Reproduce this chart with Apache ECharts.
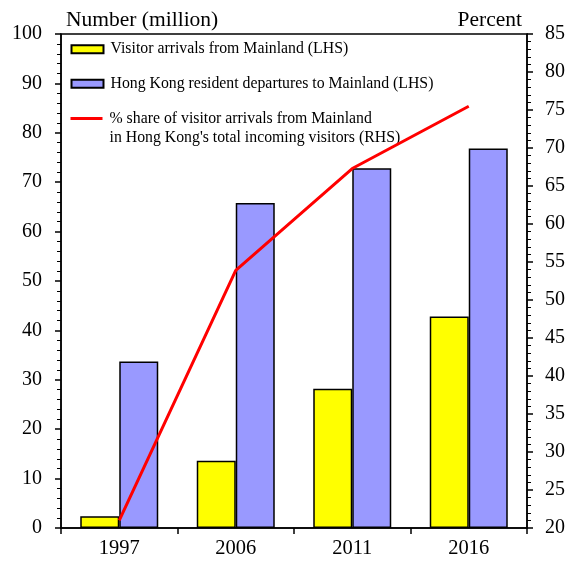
<!DOCTYPE html>
<html><head><meta charset="utf-8">
<script src="https://cdn.jsdelivr.net/npm/echarts@6/dist/echarts.min.js"></script>
<style>html,body{margin:0;padding:0;background:#fff}#c{width:576px;height:561px}</style>
</head><body><div id="c"></div>
<script>
const categories = ['1997', '2006', '2011', '2016'];
const visitorArrivals = [2.4, 13.6, 28.2, 42.8];
const residentDepartures = [33.7, 65.8, 72.8, 76.8];
const shareMainland = [21.0, 53.9, 67.3, 75.5];
const nameA = 'Visitor arrivals from Mainland (LHS)';
const nameB = 'Hong Kong resident departures to Mainland (LHS)';
const nameC = "% share of visitor arrivals from Mainland\nin Hong Kong's total incoming visitors (RHS)";
const font = "'Liberation Serif','DejaVu Serif',serif";

const legendText = {fontFamily: font, fontSize: 15.8, color: '#000', lineHeight: 19.3, padding: [0, 0, 0, 2]};
const chart = echarts.init(document.getElementById('c'));
chart.setOption({
  animation: false,
  textStyle: {fontFamily: font, color: '#000'},
  grid: {left: 61, right: 49, top: 34, bottom: 33, show: true, borderColor: '#000', borderWidth: 1.5, backgroundColor: 'transparent'},
  legend: [{
    orient: 'vertical', left: 70.5, top: 39.5, padding: 0, itemWidth: 32, itemHeight: 8, icon: 'rect',
    textStyle: legendText, data: [nameA]
  }, {
    orient: 'vertical', left: 70.5, top: 74, padding: 0, itemWidth: 32, itemHeight: 8, icon: 'rect',
    textStyle: legendText, data: [nameB]
  }, {
    orient: 'vertical', left: 70.5, top: 89.5, padding: 0, itemWidth: 32, itemHeight: 3, icon: 'rect',
    formatter: function (n) { return '\n' + n; },
    textStyle: legendText, data: [nameC]
  }],
  xAxis: {
    type: 'category', data: categories, boundaryGap: true,
    axisLine: {lineStyle: {color: '#000', width: 1.5}},
    axisTick: {show: true, inside: false, length: 6, lineStyle: {color: '#000', width: 1.5}},
    axisLabel: {fontFamily: font, fontSize: 20.5, color: '#000', margin: 10}
  },
  yAxis: [{
    type: 'value', min: 0, max: 100, interval: 10,
    name: 'Number (million)', nameLocation: 'end', nameGap: 3,
    nameTextStyle: {fontFamily: font, fontSize: 21.5, color: '#000', align: 'left', padding: [0, 0, 0, 5]},
    axisLine: {show: true, lineStyle: {color: '#000', width: 1.5}},
    axisTick: {show: true, inside: false, length: 6, lineStyle: {color: '#000', width: 1.5}},
    minorTick: {show: true, splitNumber: 5, length: 4, lineStyle: {color: '#000', width: 1}},
    splitLine: {show: false},
    axisLabel: {fontFamily: font, fontSize: 20, color: '#000', margin: 19}
  }, {
    type: 'value', min: 20, max: 85, interval: 5, position: 'right',
    name: 'Percent', nameLocation: 'end', nameGap: 3,
    nameTextStyle: {fontFamily: font, fontSize: 21.5, color: '#000', align: 'right', padding: [0, 5, 0, 0]},
    axisLine: {show: true, lineStyle: {color: '#000', width: 1.5}},
    axisTick: {show: true, inside: false, length: 6, lineStyle: {color: '#000', width: 1.5}},
    minorTick: {show: true, splitNumber: 5, length: 4, lineStyle: {color: '#000', width: 1}},
    splitLine: {show: false},
    axisLabel: {fontFamily: font, fontSize: 20, color: '#000', margin: 18}
  }],
  series: [{
    name: nameA, type: 'bar', data: visitorArrivals, barWidth: 39, barGap: '0%',
    itemStyle: {color: '#ffff00', borderColor: '#000', borderWidth: 1.5}
  }, {
    name: nameB, type: 'bar', data: residentDepartures, barWidth: 39, barGap: '0%',
    itemStyle: {color: '#9999ff', borderColor: '#000', borderWidth: 1.5}
  }, {
    name: nameC, type: 'line', yAxisIndex: 1, data: shareMainland, showSymbol: false, symbol: 'none',
    lineStyle: {color: '#ff0000', width: 3}, itemStyle: {color: '#ff0000'}, z: 5
  }]
});
</script></body></html>
